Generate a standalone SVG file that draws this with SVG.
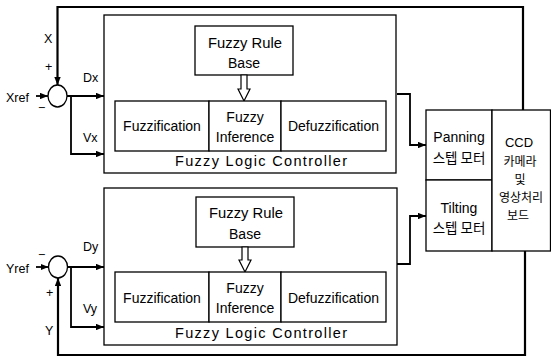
<svg xmlns="http://www.w3.org/2000/svg" width="551" height="357" viewBox="0 0 551 357">
  <defs>
    <marker id="arrow" viewBox="0 0 10 8" refX="10" refY="4" markerWidth="8" markerHeight="6.4" markerUnits="userSpaceOnUse" orient="auto">
      <path d="M0,0 L10,4 L0,8 Z" fill="#000"/>
    </marker>
    <style>
      .box { fill: #fff; stroke: #000; stroke-width: 1.3; }
      .wire { fill: none; stroke: #000; stroke-width: 1.8; }
      .feed { fill: none; stroke: #000; stroke-width: 2.2; }
      .hollow { fill: #fff; stroke: #000; stroke-width: 1.2; }
      text { font-family: "Liberation Sans", Arial, "Noto Sans CJK KR", sans-serif; fill: #000; }
      .lbl { font-size: 14px; text-anchor: middle; }
      .sig { font-size: 12.5px; }
      .ko { font-family: "Noto Sans CJK KR", sans-serif; font-size: 13.5px; text-anchor: middle; }
      .ko-sm { font-family: "Noto Sans CJK KR", sans-serif; font-size: 12px; text-anchor: middle; }
    </style>
  </defs>

  <!-- Upper (X axis) fuzzy logic controller -->
  <g id="flc-x">
    <rect class="box" x="104" y="15" width="292" height="158"/>
    <g id="rule-base-x">
      <rect class="box" x="195" y="26" width="98" height="49"/>
      <text class="lbl" x="245" y="48" textLength="74" lengthAdjust="spacingAndGlyphs">Fuzzy Rule</text>
      <text class="lbl" x="244" y="68">Base</text>
    </g>
    <path class="hollow" d="M241,75 L247,75 L247,89 L250,89 L244,101 L238,89 L241,89 Z"/>
    <g id="fuzzification-x">
      <rect class="box" x="115" y="101" width="94" height="50"/>
      <text class="lbl" x="162" y="131">Fuzzification</text>
    </g>
    <g id="inference-x">
      <rect class="box" x="209" y="101" width="72" height="50"/>
      <text class="lbl" x="245" y="122">Fuzzy</text>
      <text class="lbl" x="245" y="142">Inference</text>
    </g>
    <g id="defuzzification-x">
      <rect class="box" x="281" y="101" width="105" height="50"/>
      <text class="lbl" x="333.5" y="131">Defuzzification</text>
    </g>
    <text class="lbl" x="261" y="166" style="font-size:14.5px" textLength="172" lengthAdjust="spacing">Fuzzy Logic Controller</text>
  </g>

  <!-- Lower (Y axis) fuzzy logic controller -->
  <g id="flc-y">
    <rect class="box" x="104" y="188" width="293" height="157"/>
    <g id="rule-base-y">
      <rect class="box" x="196" y="197" width="98" height="50"/>
      <text class="lbl" x="246" y="218" textLength="74" lengthAdjust="spacingAndGlyphs">Fuzzy Rule</text>
      <text class="lbl" x="245" y="239">Base</text>
    </g>
    <path class="hollow" d="M242,247 L248,247 L248,260 L251,260 L245,272 L239,260 L242,260 Z"/>
    <g id="fuzzification-y">
      <rect class="box" x="115" y="272" width="94" height="50"/>
      <text class="lbl" x="162" y="303">Fuzzification</text>
    </g>
    <g id="inference-y">
      <rect class="box" x="209" y="272" width="72" height="50"/>
      <text class="lbl" x="245" y="293">Fuzzy</text>
      <text class="lbl" x="245" y="313">Inference</text>
    </g>
    <g id="defuzzification-y">
      <rect class="box" x="281" y="272" width="105" height="50"/>
      <text class="lbl" x="333.5" y="303">Defuzzification</text>
    </g>
    <text class="lbl" x="261" y="338" style="font-size:14.5px" textLength="172" lengthAdjust="spacing">Fuzzy Logic Controller</text>
  </g>

  <!-- Summing junctions -->
  <g id="sum-x">
    <ellipse class="box" cx="57.5" cy="96" rx="9.5" ry="11" stroke-width="1.6"/>
  </g>
  <g id="sum-y">
    <ellipse class="box" cx="58" cy="267" rx="9.5" ry="11" stroke-width="1.6"/>
  </g>

  <!-- Stepper motors and camera board -->
  <g id="panning-motor">
    <rect class="box" x="426" y="110" width="66" height="70"/>
    <text class="lbl" x="459" y="142">Panning</text>
    <text class="ko" x="459" y="163">스텝 모터</text>
  </g>
  <g id="tilting-motor">
    <rect class="box" x="426" y="180" width="66" height="71"/>
    <text class="lbl" x="459" y="213">Tilting</text>
    <text class="ko" x="459" y="233">스텝 모터</text>
  </g>
  <g id="camera-board">
    <rect class="box" x="492" y="110" width="58.5" height="141"/>
    <text class="lbl" x="519" y="147" style="font-size:13px">CCD</text>
    <text class="ko-sm" x="520" y="166">카메라</text>
    <text class="ko-sm" x="520" y="184">및</text>
    <text class="ko-sm" x="521" y="202">영상처리</text>
    <text class="ko-sm" x="518" y="220">보드</text>
  </g>

  <!-- Connectors -->
  <g id="connectors">
    <!-- X loop -->
    <path class="feed" d="M523,110 L523,7 L57.5,7 L57.5,85" marker-end="url(#arrow)"/>
    <path class="wire" d="M36,96 L48,96" marker-end="url(#arrow)"/>
    <path class="wire" d="M67,96 L104,96" marker-end="url(#arrow)"/>
    <path class="wire" d="M71,96 L71,154 L104,154" marker-end="url(#arrow)"/>
    <path class="wire" d="M397,94 L410,94 L410,145 L426,145" marker-end="url(#arrow)"/>
    <!-- Y loop -->
    <path class="feed" d="M525,251 L525,355 L58,355 L58,278" marker-end="url(#arrow)"/>
    <path class="wire" d="M36,267 L48.5,267" marker-end="url(#arrow)"/>
    <path class="wire" d="M67.5,267 L104,267" marker-end="url(#arrow)"/>
    <path class="wire" d="M71,267 L71,327 L104,327" marker-end="url(#arrow)"/>
    <path class="wire" d="M397,264 L410,264 L410,216 L426,216" marker-end="url(#arrow)"/>
  </g>

  <!-- Signal labels -->
  <g id="labels">
    <text class="sig" x="44" y="43">X</text>
    <text class="sig" x="45" y="71">+</text>
    <text class="sig" x="83" y="82">Dx</text>
    <text class="sig" x="6" y="102">Xref</text>
    <text class="sig" x="38" y="112">−</text>
    <text class="sig" x="83" y="142">Vx</text>

    <text class="sig" x="83" y="251">Dy</text>
    <text class="sig" x="38" y="259">−</text>
    <text class="sig" x="6" y="273">Yref</text>
    <text class="sig" x="46" y="297">+</text>
    <text class="sig" x="83" y="313">Vy</text>
    <text class="sig" x="45" y="335">Y</text>
  </g>
</svg>
